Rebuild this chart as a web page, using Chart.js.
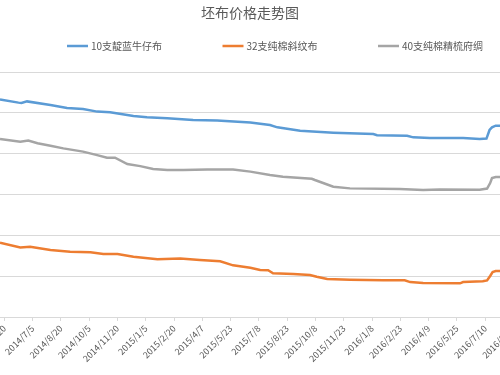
<!DOCTYPE html>
<html>
<head>
<meta charset="utf-8">
<script src="https://cdn.jsdelivr.net/npm/chart.js@4.4.1/dist/chart.umd.min.js"></script>
<style>
  html, body { margin: 0; padding: 0; background: #fff; overflow: hidden; }
  #wrap { width: 500px; height: 375px; position: relative; }
</style>
</head>
<body>
<div id="wrap"><canvas id="myChart"></canvas></div>
<script>
const chartTitle = '坯布价格走势图';
const seriesNames = ['10支靛蓝牛仔布', '32支纯棉斜纹布', '40支纯棉精梳府绸'];
const seriesColors = ['#5B9BD5', '#ED7D31', '#A5A5A5'];

const tickLabels = ['2014/5/20', '2014/7/5', '2014/8/20', '2014/10/5', '2014/11/20', '2015/1/5',
  '2015/2/20', '2015/4/7', '2015/5/23', '2015/7/8', '2015/8/23', '2015/10/8', '2015/11/23',
  '2016/1/8', '2016/2/23', '2016/4/9', '2016/5/25', '2016/7/10', '2016/8/25'];

const denimDates = ['2014/5/13', '2014/6/12', '2014/6/17', '2014/6/26', '2014/8/3', '2014/8/30',
  '2014/9/25', '2014/10/18', '2014/11/8', '2014/12/16', '2015/1/7', '2015/2/9', '2015/3/23',
  '2015/5/1', '2015/6/24', '2015/7/26', '2015/8/7', '2015/9/13', '2015/11/6', '2016/1/10',
  '2016/1/16', '2016/3/5', '2016/3/15', '2016/4/11', '2016/6/4', '2016/7/1', '2016/7/12',
  '2016/7/17', '2016/7/21', '2016/7/27', '2016/8/3'];
const denimPrices = [10.66, 10.50, 10.48, 10.56, 10.38, 10.24, 10.19, 10.06, 10.03, 9.84,
  9.78, 9.73, 9.65, 9.63, 9.53, 9.40, 9.29, 9.12, 9.03, 8.96,
  8.90, 8.88, 8.80, 8.77, 8.77, 8.72, 8.74, 9.16, 9.29, 9.37, 9.37];

const twillDates = ['2014/5/13', '2014/6/15', '2014/7/1', '2014/8/3', '2014/9/4', '2014/10/7',
  '2014/10/28', '2014/11/20', '2014/12/16', '2015/1/24', '2015/3/2', '2015/4/3', '2015/5/6',
  '2015/5/27', '2015/6/24', '2015/7/10', '2015/7/23', '2015/7/31', '2015/9/2', '2015/9/29',
  '2015/10/10', '2015/10/27', '2015/12/3', '2016/1/26', '2016/3/1', '2016/3/10', '2016/3/31',
  '2016/5/30', '2016/6/4', '2016/7/6', '2016/7/13', '2016/7/18', '2016/7/22', '2016/7/27', '2016/8/3'];
const twillPrices = [3.64, 3.41, 3.44, 3.28, 3.20, 3.17, 3.09, 3.09, 2.95, 2.83,
  2.86, 2.79, 2.73, 2.53, 2.41, 2.30, 2.29, 2.14, 2.11, 2.06,
  1.97, 1.86, 1.83, 1.80, 1.80, 1.71, 1.67, 1.65, 1.71, 1.75,
  1.79, 2.01, 2.20, 2.25, 2.25];

const poplinDates = ['2014/5/13', '2014/6/15', '2014/6/28', '2014/7/13', '2014/8/3', '2014/8/24',
  '2014/9/25', '2014/10/18', '2014/11/3', '2014/11/16', '2014/12/6', '2014/12/27', '2015/1/17',
  '2015/2/9', '2015/3/7', '2015/4/15', '2015/5/27', '2015/6/24', '2015/7/26', '2015/8/16',
  '2015/10/2', '2015/10/7', '2015/11/6', '2015/12/3', '2016/2/22', '2016/3/31', '2016/4/27',
  '2016/7/1', '2016/7/13', '2016/7/18', '2016/7/21', '2016/7/27', '2016/8/3'];
const poplinPrices = [8.72, 8.59, 8.64, 8.51, 8.39, 8.26, 8.10, 7.93, 7.80, 7.80,
  7.49, 7.39, 7.25, 7.20, 7.20, 7.23, 7.23, 7.12, 6.96, 6.87,
  6.77, 6.71, 6.38, 6.30, 6.27, 6.22, 6.25, 6.23, 6.29, 6.56,
  6.81, 6.86, 6.86];

const axisStart = '2014/5/13';
const axisEnd = '2016/8/3';

const base = Date.UTC(2014, 4, 20);
function toDay(s) {
  const [y, m, d] = s.split('/').map(Number);
  return (Date.UTC(y, m - 1, d) - base) / 86400000;
}
function points(dates, vals) {
  return dates.map((d, i) => ({ x: toDay(d), y: vals[i] }));
}
const tickValues = tickLabels.map(toDay);

const font = '"Noto Sans CJK SC", "Liberation Sans", sans-serif';

const header = {
  id: 'header',
  afterDraw(chart) {
    const c = chart.ctx;
    c.save();
    c.fillStyle = '#595959';
    c.textBaseline = 'middle';
    c.textAlign = 'center';
    c.font = '14px ' + font;
    c.fillText(chartTitle, chart.width / 2, 13);
    c.font = '10px ' + font;
    c.textAlign = 'left';
    chart.data.datasets.forEach((ds, i) => {
      const x = 67 + i * 155.5;
      c.strokeStyle = ds.borderColor;
      c.lineWidth = 2.5;
      c.beginPath();
      c.moveTo(x, 46);
      c.lineTo(x + 21, 46);
      c.stroke();
      c.fillText(ds.label, x + 24, 46);
    });
    c.restore();
  }
};

const ctx = document.getElementById('myChart');

const chart = new Chart(ctx, {
  type: 'line',
  data: {
    datasets: [
      { label: seriesNames[0], data: points(denimDates, denimPrices), borderColor: seriesColors[0] },
      { label: seriesNames[1], data: points(twillDates, twillPrices), borderColor: seriesColors[1] },
      { label: seriesNames[2], data: points(poplinDates, poplinPrices), borderColor: seriesColors[2] }
    ]
  },
  options: {
    animation: false,
    responsive: true,
    maintainAspectRatio: false,
    layout: { padding: { top: 72, left: 0, right: 0, bottom: 0 } },
    elements: {
      line: { borderWidth: 2.5, tension: 0 },
      point: { radius: 0 }
    },
    plugins: {
      legend: { display: false },
      title: { display: false },
      tooltip: { enabled: false }
    },
    scales: {
      x: {
        type: 'linear',
        min: toDay(axisStart),
        max: toDay(axisEnd),
        afterBuildTicks: (scale) => { scale.ticks = tickValues.map(v => ({ value: v })); },
        afterFit: (scale) => { scale.paddingLeft = 0; scale.paddingRight = 0; scale.height = 58; },
        grid: { display: true, drawOnChartArea: false, drawTicks: true, tickLength: 4, color: '#D9D9D9' },
        border: { color: '#D9D9D9' },
        ticks: {
          autoSkip: false,
          minRotation: 45,
          maxRotation: 45,
          padding: 2,
          color: '#595959',
          font: { size: 9, family: font },
          callback: (value) => tickLabels[tickValues.indexOf(value)]
        }
      },
      y: {
        min: 0,
        max: 12,
        ticks: { display: false, stepSize: 2 },
        afterFit: (scale) => { scale.width = 0; scale.paddingTop = 0; scale.paddingBottom = 0; },
        grid: { color: '#D9D9D9', drawTicks: false },
        border: { display: false }
      }
    }
  },
  plugins: [header]
});
</script>
</body>
</html>
